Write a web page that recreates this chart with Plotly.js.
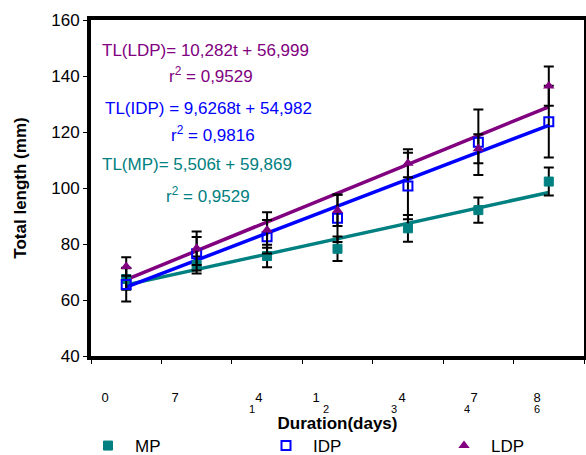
<!DOCTYPE html>
<html>
<head>
<meta charset="utf-8">
<script src="https://cdn.plot.ly/plotly-3.0.1.min.js"></script>
<style>html,body{margin:0;padding:0;background:#fff;}#chart{width:586px;height:455px;}</style>
</head>
<body>
<div id="chart"></div>
<script>
// sampling occasions (x positions)
const samples = [1, 2, 3, 4, 5, 6, 7];

// mean total length (mm) and error (mm)
const mpMean  = [67.5, 72.5, 75.7, 78.3, 85.6, 92.1, 102.3];
const mpErr   = [3.8, 3.0, 4.0, 4.4, 4.8, 4.5, 5.0];
const idpMean = [65.5, 76.5, 82.6, 89.2, 100.7, 116.3, 123.7];
const idpErr  = [6.0, 6.0, 6.0, 8.5, 11.9, 11.7, 12.8];
const ldpMean = [72.0, 78.5, 85.0, 92.0, 108.8, 114.0, 136.4];
const ldpErr  = [3.3, 6.0, 6.3, 5.6, 5.0, 5.2, 7.0];

// fitted trend lines (end points)
const trendX   = [1, 7];
const mpTrend  = [65.4, 98.4];
const idpTrend = [64.6, 122.4];
const ldpTrend = [67.3, 129.0];

// x tick labels (upper / lower characters, as printed)
const tickTop    = ["0", "7", "4", "1", "4", "7", "8"];
const tickBottom = ["1", "2", "3", "4", "6"];

// equation annotations
const eqLDP = "TL(LDP)= 10,282t + 56,999";
const r2LDP = "r<sup>2</sup> = 0,9529";
const eqIDP = "TL(IDP) = 9,6268t + 54,982";
const r2IDP = "r<sup>2</sup> = 0,9816";
const eqMP  = "TL(MP)= 5,506t + 59,869";
const r2MP  = "r<sup>2</sup> = 0,9529";

const TEAL = "#008080", BLUE = "#0000ff", PURPLE = "#800080";

// label placement along the axis (layout, not data)
const topPos = [0.699, 1.693, 2.885, 3.695, 4.916, 5.938, 6.833];
const botPos = [2.786, 3.837, 4.802, 5.839, 6.833];

const errStyle = (arr) => ({type: "data", array: arr, visible: true, color: "#000", thickness: 2, width: 5});

const traces = [
  {x: trendX, y: mpTrend, mode: "lines", line: {color: TEAL, width: 3.5}, showlegend: false, hoverinfo: "skip"},
  {x: trendX, y: idpTrend, mode: "lines", line: {color: BLUE, width: 3.5}, showlegend: false, hoverinfo: "skip"},
  {x: trendX, y: ldpTrend, mode: "lines", line: {color: PURPLE, width: 3.5}, showlegend: false, hoverinfo: "skip"},
  {x: samples, y: mpMean, name: "MP", mode: "markers", error_y: errStyle(mpErr),
   marker: {symbol: "square", size: 9, color: TEAL, line: {color: TEAL, width: 1}}},
  {x: samples, y: idpMean, name: "IDP", mode: "markers", error_y: errStyle(idpErr),
   marker: {symbol: "square-open", size: 9, color: BLUE, line: {color: BLUE, width: 2}}},
  {x: samples, y: ldpMean, name: "LDP", mode: "markers", error_y: errStyle(ldpErr),
   marker: {symbol: "triangle-up", size: 10, color: PURPLE}},
  // invisible helpers so that the label axes are drawn
  {x: [1], y: [100], xaxis: "x2", mode: "markers", marker: {opacity: 0}, showlegend: false, hoverinfo: "skip"},
  {x: [1], y: [100], xaxis: "x3", mode: "markers", marker: {opacity: 0}, showlegend: false, hoverinfo: "skip"}
];

const W = 493, H = 336, L = 91, T = 20;
const px = (v) => (v - L) / W;
const py = (v) => (T + H - v) / H;
const ann = (txt, x, y, col) => ({text: txt, xref: "paper", yref: "paper", x: px(x), y: py(y),
  xanchor: "left", yanchor: "middle", showarrow: false, font: {family: "Liberation Sans, Arial, sans-serif", size: 17, color: col}});

const labelAxis = (vals, txt, len, size) => ({overlaying: "x", anchor: "y", side: "bottom", range: [0.5, 7.5],
  tickmode: "array", tickvals: vals, ticktext: txt, ticks: "outside", ticklen: len, tickcolor: "rgba(0,0,0,0)",
  tickfont: {size: size, color: "#000"}, showline: false, showgrid: false, zeroline: false, automargin: false});

const layout = {
  width: 586, height: 455,
  margin: {l: L, r: 2, t: T, b: 455 - T - H, autoexpand: false},
  paper_bgcolor: "#fff", plot_bgcolor: "#fff",
  font: {family: "Liberation Sans, Arial, sans-serif", color: "#000", size: 17},
  showlegend: true,
  legend: {orientation: "h", x: px(81), xanchor: "left", y: py(446), yanchor: "middle",
    entrywidth: 119, entrywidthmode: "pixels", itemwidth: 44, font: {size: 17}, traceorder: "normal"},
  xaxis: {range: [0.5, 7.5], tickmode: "array", tickvals: [0.5, 1.5, 2.5, 3.5, 4.5, 5.5, 6.5, 7.5],
    showticklabels: false, ticks: "outside", ticklen: 4, tickwidth: 1, tickcolor: "#000",
    showline: true, linecolor: "#000", linewidth: 4, mirror: true, showgrid: false, zeroline: false,
    automargin: false,
    title: {text: "<b>Duration(days)</b>", font: {size: 17}, standoff: 55}},
  xaxis2: labelAxis(topPos, tickTop, 29, 13),
  xaxis3: labelAxis(botPos, tickBottom, 43, 11),
  yaxis: {range: [40, 160], tickmode: "array", tickvals: [40, 60, 80, 100, 120, 140, 160],
    ticks: "outside", ticklen: 4, tickwidth: 1, tickcolor: "#000", tickfont: {size: 17},
    showline: true, linecolor: "#000", linewidth: 4, mirror: true, showgrid: false, zeroline: false,
    automargin: false,
    title: {text: "<b>Total length (mm)</b>", font: {size: 17}, standoff: 21}},
  annotations: [
    ann(eqLDP, 100, 50, PURPLE), ann(r2LDP, 167, 75, PURPLE),
    ann(eqIDP, 103, 109, BLUE), ann(r2IDP, 169, 134, BLUE),
    ann(eqMP, 100, 164, TEAL), ann(r2MP, 164, 195, TEAL)
  ]
};

Plotly.newPlot("chart", traces, layout, {displayModeBar: false, staticPlot: true});
</script>
</body>
</html>
